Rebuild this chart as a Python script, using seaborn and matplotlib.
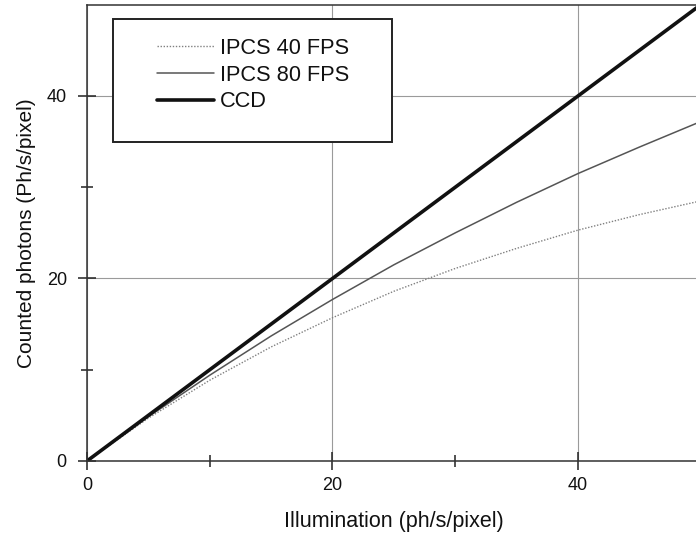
import numpy as np
import pandas as pd
import matplotlib
matplotlib.use("Agg")
import matplotlib.pyplot as plt
from matplotlib.patches import Rectangle
import seaborn as sns

# Illumination levels (ph/s/pixel) and counted photon rates (Ph/s/pixel)
illumination = [0, 5, 10, 15, 20, 25, 30, 35, 40, 45, 50]
ipcs_40fps = [0, 4.7, 8.85, 12.5, 15.7, 18.6, 21.1, 23.3, 25.3, 27.0, 28.5]
ipcs_80fps = [0, 4.85, 9.4, 13.7, 17.7, 21.5, 25.0, 28.35, 31.5, 34.4, 37.2]
ccd = [0, 5, 10, 15, 20, 25, 30, 35, 40, 45, 50]

series_names = ["IPCS 40 FPS", "IPCS 80 FPS", "CCD"]
x_ticks = [0, 20, 40]
y_ticks = [0, 20, 40]
minor_ticks = [10, 30]

df = pd.DataFrame({
    "Illumination": illumination * 3,
    "Counted": ipcs_40fps + ipcs_80fps + ccd,
    "Detector": np.repeat(series_names, len(illumination)),
})

sns.set_theme(style="white")
plt.rcParams["font.family"] = ["Liberation Sans", "DejaVu Sans"]

fig = plt.figure(figsize=(6.96, 5.33), dpi=100)
ax = fig.add_axes([0.125, 0.1351, 0.8818, 0.856])

styles = {
    "IPCS 40 FPS": dict(color="#808080", linewidth=1.0, linestyle=(0, (1, 1.2))),
    "IPCS 80 FPS": dict(color="#555555", linewidth=1.1, linestyle="-"),
    "CCD": dict(color="#111111", linewidth=2.6, linestyle="-"),
}
for name in series_names:
    sub = df[df["Detector"] == name]
    sns.lineplot(data=sub, x="Illumination", y="Counted", ax=ax,
                 label=name, **styles[name])

ax.set_xlim(0, 50)
ax.set_ylim(0, 50)
ax.set_xticks(x_ticks)
ax.set_yticks(y_ticks)
ax.set_xticks(minor_ticks, minor=True)
ax.set_yticks(minor_ticks, minor=True)
ax.tick_params(which="major", direction="inout", length=13, width=1.1,
               color="#222222", labelsize=13, labelcolor="#111111")
ax.tick_params(axis="x", which="major", pad=5)
ax.tick_params(axis="y", which="major", pad=8)
ax.tick_params(which="minor", direction="inout", length=8, width=1.1,
               color="#222222")
ax.tick_params(axis="x", which="both", bottom=True)
ax.tick_params(axis="y", which="both", left=True)
ax.grid(True, which="major", color="#9a9a9a", linewidth=0.8)

for side in ["left", "bottom", "top", "right"]:
    ax.spines[side].set_visible(True)
    ax.spines[side].set_color("#333333")
    ax.spines[side].set_linewidth(1.1)

ax.set_xlabel("Illumination (ph/s/pixel)", fontsize=15.5, color="#111111", labelpad=12)
ax.set_ylabel("Counted photons (Ph/s/pixel)", fontsize=15, color="#111111", labelpad=8)

# legend frame
box = Rectangle((113 / 696, 1 - 142 / 533), (392 - 113) / 696, (142 - 19) / 533,
                transform=fig.transFigure, facecolor="white", edgecolor="#222222",
                linewidth=1.4, zorder=4, clip_on=False)
ax.add_patch(box)
leg = ax.legend(loc="upper left", bbox_to_anchor=(157 / 696, 1 - 38 / 533),
                bbox_transform=fig.transFigure, frameon=False, fontsize=15.7,
                handlelength=2.6, handletextpad=0.3, labelspacing=0.26,
                borderpad=0, borderaxespad=0)
leg.set_zorder(6)
for t in leg.get_texts():
    t.set_color("#111111")

fig.savefig("out.png", dpi=100)
